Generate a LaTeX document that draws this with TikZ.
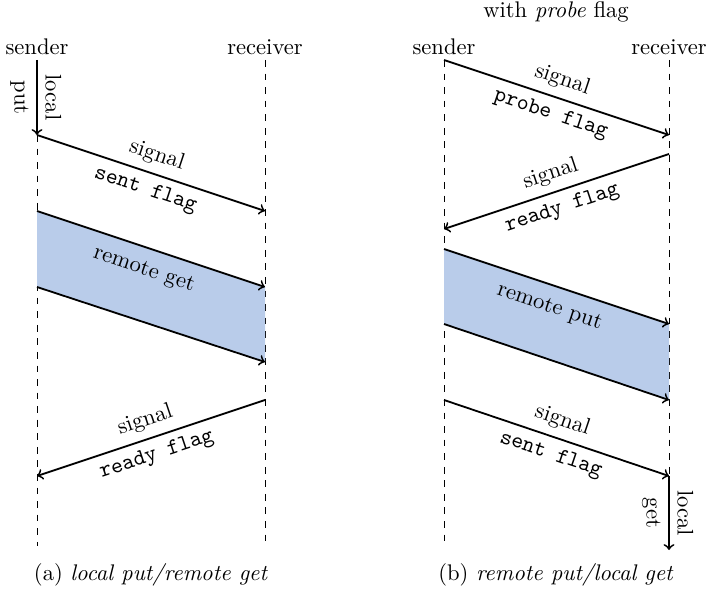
\documentclass[tikz,border=0pt]{standalone}
\usetikzlibrary{positioning}
\definecolor{bandblue}{RGB}{185,204,234}
\tikzset{
  lifeline/.style={dashed, thin},
  msg/.style={->, thick},
  band/.style={fill=bandblue, draw=none},
  flag/.style={font=\ttfamily},
}
\begin{document}
\begin{tikzpicture}[x=0.4425pt,y=-0.4425pt]
	\useasboundingbox (0,0) rectangle (708,589);
	% (a) local put / remote get
	\node (snda) at (37,47) {sender};
	\node (rcva) at (265,47) {receiver};
	\coordinate (sa0) at (37,60);
	\coordinate (sa1) at (37,135);
	\coordinate (sa2) at (37,211);
	\coordinate (sa3) at (37,287);
	\coordinate (sa4) at (37,476);
	\coordinate (saE) at (37,546);
	\coordinate (ra0) at (265,60);
	\coordinate (ra1) at (265,211);
	\coordinate (ra2) at (265,287);
	\coordinate (ra3) at (265,362);
	\coordinate (ra4) at (265,400);
	\coordinate (raE) at (265,546);
	\draw[lifeline] (sa1) -- (saE);
	\draw[lifeline] (ra0) -- (raE);
	\fill[band] (sa2) -- (ra2) -- (ra3) -- (sa3) -- cycle;
	\draw[msg] (sa0) -- node[sloped,above]{local} node[sloped,below]{put} (sa1);
	\draw[msg] (sa1) -- node[sloped,above]{signal} node[sloped,below,flag]{sent flag} (ra1);
	\draw[msg] (sa2) -- node[sloped,below,yshift=-2pt]{remote get} (ra2);
	\draw[msg] (sa3) -- (ra3);
	\draw[msg] (ra4) -- node[sloped,above]{signal} node[sloped,below,flag]{ready flag} (sa4);
	\node (capa) at (151,575) {(a) \textit{local put/remote get}};
	% (b) remote put / local get
	\node (probe) at (556,12) {with \textit{probe} flag};
	\node (sndb) at (444,47) {sender};
	\node (rcvb) at (669,47) {receiver};
	\coordinate (sb0) at (444,60);
	\coordinate (sb1) at (444,229);
	\coordinate (sb2) at (444,249);
	\coordinate (sb3) at (444,324);
	\coordinate (sb4) at (444,400);
	\coordinate (sbE) at (444,546);
	\coordinate (rb0) at (669,60);
	\coordinate (rb1) at (669,135);
	\coordinate (rb2) at (669,154);
	\coordinate (rb3) at (669,324);
	\coordinate (rb4) at (669,400);
	\coordinate (rb5) at (669,476);
	\coordinate (rbE) at (669,550);
	\draw[lifeline] (sb0) -- (sbE);
	\draw[lifeline] (rb0) -- (rb5);
	\fill[band] (sb2) -- (rb3) -- (rb4) -- (sb3) -- cycle;
	\draw[msg] (sb0) -- node[sloped,above]{signal} node[sloped,below,flag]{probe flag} (rb1);
	\draw[msg] (rb2) -- node[sloped,above]{signal} node[sloped,below,flag]{ready flag} (sb1);
	\draw[msg] (sb2) -- node[sloped,below,yshift=-2pt]{remote put} (rb3);
	\draw[msg] (sb3) -- (rb4);
	\draw[msg] (sb4) -- node[sloped,above]{signal} node[sloped,below,flag]{sent flag} (rb5);
	\draw[msg] (rb5) -- node[sloped,above]{local} node[sloped,below]{get} (rbE);
	\node (capb) at (556,575) {(b) \textit{remote put/local get}};
\end{tikzpicture}
\end{document}
